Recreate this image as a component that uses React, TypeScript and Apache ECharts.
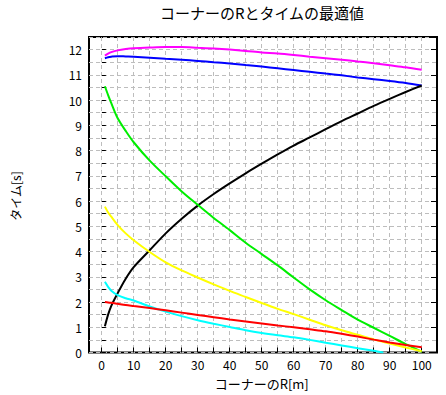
import React, { useEffect, useRef } from "react";
import * as echarts from "echarts";

const titleText = "コーナーのRとタイムの最適値";
const xName = "コーナーのR[m]";
const yName = "タイム[s]";

const xs = [1, 2, 3, 5, 7.5, 10, 15, 20, 25, 30, 35, 40, 45, 50, 55, 60, 65, 70, 75, 80, 85, 90, 95, 100];
const magenta = [11.76, 11.84, 11.9, 11.97, 12.02, 12.05, 12.08, 12.1, 12.1, 12.07, 12.04, 12.0, 11.95, 11.89, 11.85, 11.79, 11.72, 11.66, 11.6, 11.53, 11.46, 11.38, 11.3, 11.2];
const blue = [11.66, 11.7, 11.72, 11.74, 11.73, 11.72, 11.68, 11.64, 11.6, 11.55, 11.5, 11.45, 11.39, 11.33, 11.26, 11.19, 11.12, 11.05, 10.98, 10.9, 10.83, 10.76, 10.68, 10.58];
const black = [1.04, 1.5, 1.85, 2.35, 2.92, 3.38, 4.05, 4.72, 5.3, 5.82, 6.28, 6.7, 7.1, 7.48, 7.85, 8.2, 8.52, 8.85, 9.17, 9.47, 9.77, 10.05, 10.32, 10.58];
const green = [10.55, 10.2, 9.88, 9.28, 8.78, 8.33, 7.6, 6.98, 6.38, 5.85, 5.33, 4.85, 4.35, 3.9, 3.45, 2.97, 2.5, 2.07, 1.68, 1.3, 0.98, 0.66, 0.33, 0.03];
const yellow = [5.78, 5.55, 5.38, 5.05, 4.72, 4.45, 3.98, 3.57, 3.25, 2.97, 2.7, 2.44, 2.2, 1.96, 1.73, 1.52, 1.3, 1.08, 0.88, 0.7, 0.52, 0.36, 0.2, 0.05];
const red = [2.0, 1.98, 1.97, 1.93, 1.88, 1.84, 1.76, 1.67, 1.58, 1.49, 1.4, 1.31, 1.23, 1.15, 1.07, 1.0, 0.92, 0.84, 0.74, 0.63, 0.51, 0.4, 0.3, 0.21];
const cyanX = [1, 2, 3, 5, 7.5, 10, 15, 20, 25, 30, 35, 40, 45, 50, 55, 60, 65, 70, 75, 80, 85, 88];
const cyan = [2.8, 2.6, 2.45, 2.27, 2.15, 2.06, 1.82, 1.62, 1.44, 1.28, 1.14, 1.01, 0.88, 0.77, 0.68, 0.6, 0.5, 0.39, 0.28, 0.17, 0.07, 0.0];

const seriesDefs = [
  { name: "magenta", x: xs, y: magenta, color: "#ff00ff" },
  { name: "blue", x: xs, y: blue, color: "#0000ff" },
  { name: "black", x: xs, y: black, color: "#000000" },
  { name: "green", x: xs, y: green, color: "#00ee00" },
  { name: "yellow", x: xs, y: yellow, color: "#ffff00" },
  { name: "cyan", x: cyanX, y: cyan, color: "#00ffff" },
  { name: "red", x: xs, y: red, color: "#ff0000" },
];

const FONT = "'Noto Sans CJK JP', 'DejaVu Sans', sans-serif";
const gridLine = { show: true, lineStyle: { color: "#bdbdbd", type: [4, 3], width: 1 } };

export default function App() {
  const ref = useRef<HTMLDivElement>(null);
  useEffect(() => {
    if (!ref.current) return;
    const chart = echarts.init(ref.current, null, { renderer: "svg" });
    chart.setOption({
      animation: false,
      backgroundColor: "#ffffff",
      title: {
        text: titleText,
        left: 257,
        top: 0,
        textAlign: "center",
        textStyle: { fontFamily: FONT, fontSize: 15, fontWeight: "normal", color: "#000" },
      },
      graphic: [
        {
          type: "text",
          x: 15,
          y: 196,
          rotation: Math.PI / 2,
          style: {
            text: yName,
            fontFamily: FONT,
            fontSize: 12,
            fill: "#000",
            align: "center",
            verticalAlign: "middle",
          },
        },
      ],
      grid: [
        { left: 89, right: 9, top: 37, bottom: 42.5, show: true, borderColor: "#000", borderWidth: 2, backgroundColor: "transparent" },
        { left: 101.7, right: 24.3, top: 37, bottom: 42.5 },
      ],
      xAxis: [
        { gridIndex: 0, type: "value", min: -4, max: 104, show: false },
        {
          gridIndex: 1,
          type: "value",
          min: 0,
          max: 100,
          interval: 5,
          name: xName,
          nameLocation: "middle",
          nameGap: 24,
          nameTextStyle: { fontFamily: FONT, fontSize: 13, color: "#000" },
          axisLine: { show: false },
          axisTick: { show: true, inside: true, length: 5, lineStyle: { color: "#000", width: 1 } },
          axisLabel: {
            margin: 6,
            fontFamily: FONT,
            fontSize: 12,
            color: "#000",
            formatter: (v: number) => (v % 10 === 0 ? String(v) : ""),
          },
          splitLine: gridLine,
        },
      ],
      yAxis: [
        {
          gridIndex: 0,
          type: "value",
          min: 0,
          max: 12.5,
          interval: 0.5,
          axisLine: { show: false },
          axisTick: { show: true, inside: true, length: 4, lineStyle: { color: "#000", width: 1 } },
          axisLabel: {
            margin: 7,
            fontFamily: FONT,
            fontSize: 12,
            color: "#000",
            showMaxLabel: false,
            formatter: (v: number) => (Number.isInteger(v) ? String(v) : ""),
          },
          splitLine: gridLine,
        },
        {
          gridIndex: 0,
          type: "value",
          min: 0,
          max: 12.5,
          interval: 1,
          axisLine: { show: false },
          axisTick: { show: true, inside: true, length: 6, lineStyle: { color: "#000", width: 1 } },
          axisLabel: { show: false },
          splitLine: { show: false },
        },
        { gridIndex: 1, type: "value", min: 0, max: 12.5, show: false },
      ],
      series: seriesDefs.map((s) => ({
        name: s.name,
        type: "line",
        xAxisIndex: 1,
        yAxisIndex: 2,
        data: s.x.map((x, i) => [x, s.y[i]]),
        showSymbol: false,
        symbol: "none",
        smooth: 0.3,
        lineStyle: { color: s.color, width: 2 },
        itemStyle: { color: s.color },
      })),
    });
    return () => chart.dispose();
  }, []);
  return (
    <div
      ref={ref}
      style={{ position: "fixed", left: 0, top: 0, width: 446, height: 395, background: "#fff" }}
    />
  );
}
